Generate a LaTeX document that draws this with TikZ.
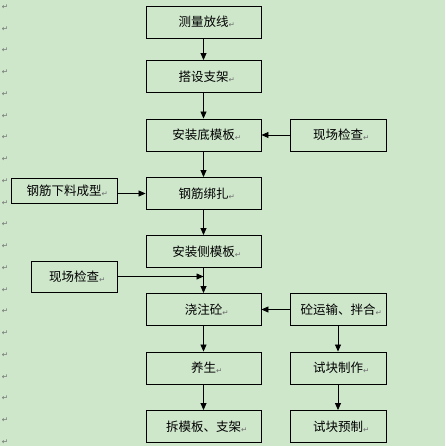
\documentclass[tikz,border=0pt]{standalone}
\usepackage{fontspec}
\usepackage{tikz}
\usetikzlibrary{arrows.meta,positioning,calc}
\newfontfamily\cjk{Noto Sans CJK SC}
\newfontfamily\markfont{DejaVu Sans}
\definecolor{pageGreen}{HTML}{CEE7CB}
\definecolor{markGray}{HTML}{6F6F6F}
\newcommand{\pmark}{\rlap{\raisebox{-1pt}{\markfont\fontsize{7.5}{7.5}\selectfont\color{markGray}↵}}}
\tikzset{
  stepbox/.style={draw=black,line width=0.9pt,fill=pageGreen,inner sep=0pt,
                  font=\cjk\fontsize{12.5}{14}\selectfont,align=center},
  mainbox/.style={stepbox,minimum width=115pt,minimum height=32pt},
  sidebox/.style={stepbox,minimum width=96pt,minimum height=32pt},
  flow/.style={line width=0.8pt,-{Triangle[length=7pt,width=6pt]}},
  retmark/.style={inner sep=0pt,font=\markfont\fontsize{7.5}{7.5}\selectfont,text=markGray}
}
\begin{document}
\begin{tikzpicture}[x=1pt,y=-1pt]
  \fill[pageGreen] (0,0) rectangle (445,446);
  \useasboundingbox (0,0) rectangle (445,446);
  % paragraph marks down the margin
  \foreach \i in {0,...,20}
    \node[retmark] at (5,{7+21.75*\i}) {↵};
  % main column
  \node[mainbox] (survey)  at (203.5,22)    {测量放线\pmark};
  \node[mainbox] (support) at (203.5,76.5)  {搭设支架\pmark};
  \node[mainbox] (bottom)  at (203.5,135)   {安装底模板\pmark};
  \node[mainbox] (rebar)   at (203.5,193.5) {钢筋绑扎\pmark};
  \node[mainbox] (side)    at (203.5,251.5) {安装侧模板\pmark};
  \node[mainbox] (pour)    at (203.5,309.5) {浇注砼\pmark};
  \node[mainbox] (cure)    at (203.5,368)   {养生\pmark};
  \node[mainbox] (strip)   at (203.5,426.5) {拆模板、支架\pmark};
  % side boxes
  \node[sidebox] (checkA)  at (338,135)     {现场检查\pmark};
  \node[stepbox,minimum width=106pt,minimum height=25pt] (cut) at (64,190.5) {钢筋下料成型\pmark};
  \node[stepbox,minimum width=86pt,minimum height=31pt] (checkB) at (74,276.5) {现场检查\pmark};
  \node[sidebox] (mix)     at (338,309.5)   {砼运输、拌合\pmark};
  \node[sidebox] (cubeA)   at (338,368)     {试块制作\pmark};
  \node[sidebox] (cubeB)   at (338,426.5)   {试块预制\pmark};
  % connectors
  \draw[flow] (survey) -- (support);
  \draw[flow] (support) -- (bottom);
  \draw[flow] (bottom) -- (rebar);
  \draw[flow] (rebar) -- (side);
  \draw[flow] (side) -- (pour);
  \draw[flow] (pour) -- (cure);
  \draw[flow] (cure) -- (strip);
  \draw[flow] (checkA) -- (bottom);
  \draw[flow] (cut.east |- rebar.west) -- (rebar.west);
  \draw[flow] (checkB.east) -- (checkB.east -| side.south);
  \draw[flow] (mix) -- (pour);
  \draw[flow] (mix) -- (cubeA);
  \draw[flow] (cubeA) -- (cubeB);
\end{tikzpicture}
\end{document}
